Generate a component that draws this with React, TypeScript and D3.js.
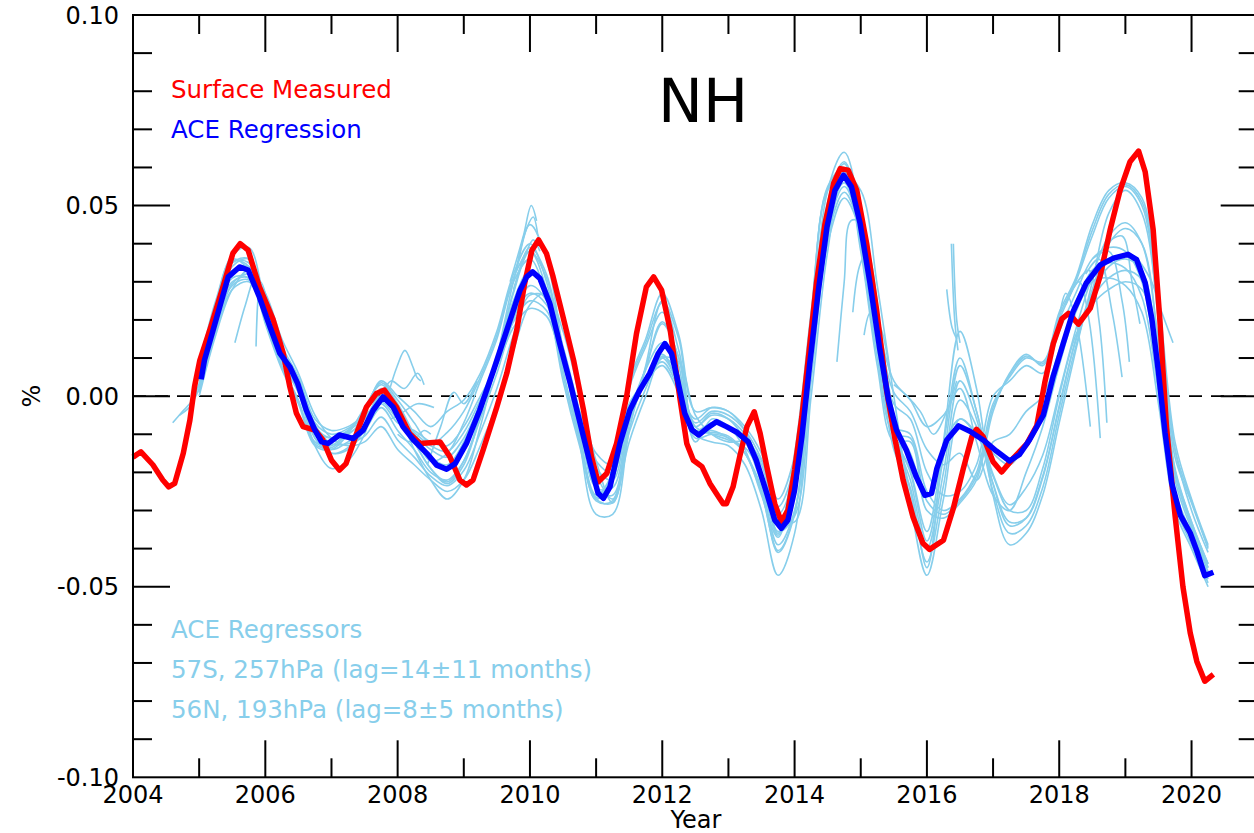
import React from "react";
import * as d3 from "d3";

// ---------- DATA ----------
const surfaceMeasured: [number, number][] = [
  [2004.0,-0.016],[2004.12,-0.0146],[2004.3,-0.018],[2004.45,-0.022],[2004.54,-0.0238],[2004.63,-0.0229],[2004.76,-0.015],[2004.86,-0.0063],[2004.93,0.0025],[2005.01,0.0094],[2005.16,0.0173],[2005.36,0.0287],[2005.51,0.0375],[2005.62,0.040],[2005.74,0.0383],[2005.91,0.0287],[2006.12,0.020],[2006.27,0.0113],[2006.37,0.0025],[2006.47,-0.0045],[2006.57,-0.008],[2006.75,-0.0089],[2006.87,-0.0115],[2007.0,-0.0168],[2007.12,-0.0194],[2007.22,-0.0177],[2007.38,-0.0098],[2007.53,-0.0028],[2007.68,0.0007],[2007.8,0.0016],[2007.98,-0.0028],[2008.18,-0.0098],[2008.34,-0.0124],[2008.64,-0.012],[2008.79,-0.0159],[2008.94,-0.022],[2009.04,-0.0233],[2009.14,-0.022],[2009.29,-0.0142],[2009.5,-0.0028],[2009.65,0.006],[2009.8,0.0173],[2009.92,0.0296],[2010.03,0.0383],[2010.13,0.041],[2010.25,0.0374],[2010.35,0.0313],[2010.5,0.0208],[2010.66,0.0094],[2010.81,-0.0037],[2010.93,-0.0159],[2011.03,-0.0225],[2011.16,-0.0203],[2011.31,-0.0124],[2011.46,-0.0002],[2011.61,0.0164],[2011.76,0.0287],[2011.87,0.0313],[2011.99,0.0278],[2012.12,0.0173],[2012.27,-0.001],[2012.37,-0.0124],[2012.47,-0.0168],[2012.6,-0.0185],[2012.72,-0.0229],[2012.85,-0.0264],[2012.92,-0.0282],[2012.97,-0.0282],[2013.07,-0.0238],[2013.17,-0.0159],[2013.28,-0.008],[2013.39,-0.0041],[2013.48,-0.0098],[2013.58,-0.0185],[2013.7,-0.0282],[2013.8,-0.033],[2013.9,-0.0299],[2014.0,-0.0194],[2014.11,-0.0054],[2014.21,0.0103],[2014.33,0.0296],[2014.46,0.0453],[2014.59,0.0558],[2014.69,0.0597],[2014.81,0.0593],[2014.94,0.054],[2015.09,0.040],[2015.24,0.0226],[2015.39,0.0016],[2015.52,-0.0115],[2015.64,-0.022],[2015.79,-0.0317],[2015.94,-0.0386],[2016.04,-0.0402],[2016.25,-0.0378],[2016.4,-0.0294],[2016.55,-0.019],[2016.68,-0.0106],[2016.75,-0.0087],[2016.85,-0.0106],[2017.0,-0.0172],[2017.13,-0.0199],[2017.31,-0.0162],[2017.51,-0.0125],[2017.66,-0.0078],[2017.78,0.0034],[2017.91,0.0138],[2018.04,0.0203],[2018.14,0.0217],[2018.29,0.0189],[2018.47,0.0231],[2018.62,0.0316],[2018.77,0.0437],[2018.92,0.054],[2019.07,0.0615],[2019.2,0.0643],[2019.3,0.0588],[2019.42,0.0437],[2019.52,0.0203],[2019.62,-0.0078],[2019.75,-0.0312],[2019.87,-0.05],[2019.98,-0.0621],[2020.08,-0.0696],[2020.2,-0.0748],[2020.33,-0.073]
];

const aceRegression: [number, number][] = [
  [2005.03,0.0044],[2005.08,0.0094],[2005.21,0.0173],[2005.31,0.0234],[2005.44,0.0313],[2005.61,0.0339],[2005.74,0.0331],[2005.91,0.026],[2006.07,0.0182],[2006.22,0.0112],[2006.37,0.0077],[2006.49,0.0033],[2006.62,-0.0037],[2006.75,-0.0089],[2006.85,-0.012],[2006.95,-0.0124],[2007.12,-0.0102],[2007.33,-0.0111],[2007.48,-0.0089],[2007.63,-0.0037],[2007.78,-0.0002],[2007.93,-0.0028],[2008.08,-0.008],[2008.24,-0.0115],[2008.44,-0.015],[2008.59,-0.0181],[2008.74,-0.0192],[2008.87,-0.0177],[2009.04,-0.0124],[2009.24,-0.0037],[2009.45,0.0068],[2009.65,0.0173],[2009.85,0.0278],[2009.95,0.0313],[2010.04,0.0326],[2010.15,0.0309],[2010.3,0.0243],[2010.45,0.0138],[2010.61,0.0033],[2010.76,-0.0072],[2010.91,-0.0177],[2011.03,-0.0255],[2011.11,-0.0268],[2011.21,-0.0238],[2011.36,-0.0124],[2011.51,-0.0037],[2011.66,0.0016],[2011.81,0.006],[2011.94,0.0112],[2012.04,0.0138],[2012.14,0.0112],[2012.22,0.0051],[2012.34,-0.0045],[2012.45,-0.0089],[2012.55,-0.0102],[2012.67,-0.0085],[2012.82,-0.0067],[2012.97,-0.008],[2013.12,-0.0094],[2013.3,-0.012],[2013.42,-0.0168],[2013.58,-0.0255],[2013.7,-0.0325],[2013.8,-0.0347],[2013.9,-0.0325],[2014.0,-0.0247],[2014.11,-0.0107],[2014.23,0.0086],[2014.36,0.0278],[2014.49,0.0444],[2014.61,0.054],[2014.74,0.058],[2014.86,0.0549],[2014.99,0.0453],[2015.14,0.0296],[2015.29,0.0121],[2015.42,-0.001],[2015.54,-0.0089],[2015.69,-0.0142],[2015.84,-0.0212],[2015.97,-0.026],[2016.07,-0.0255],[2016.15,-0.019],[2016.3,-0.0115],[2016.48,-0.0078],[2016.65,-0.0092],[2016.85,-0.0115],[2017.05,-0.0144],[2017.25,-0.017],[2017.4,-0.0153],[2017.55,-0.0115],[2017.76,-0.005],[2017.91,0.0053],[2018.06,0.0138],[2018.21,0.0222],[2018.41,0.0297],[2018.62,0.0344],[2018.82,0.0362],[2019.04,0.0372],[2019.17,0.0358],[2019.3,0.0297],[2019.4,0.0203],[2019.5,0.0063],[2019.6,-0.0097],[2019.7,-0.0228],[2019.83,-0.0312],[2019.98,-0.0359],[2020.08,-0.0406],[2020.2,-0.0471],[2020.33,-0.0462]
];

// ACE regressor ensemble members on a quarterly grid
const ensYears = [2005.0,2005.25,2005.5,2005.75,2006.0,2006.25,2006.5,2006.75,2007.0,2007.25,2007.5,2007.75,2008.0,2008.25,2008.5,2008.75,2009.0,2009.25,2009.5,2009.75,2010.0,2010.25,2010.5,2010.75,2011.0,2011.25,2011.5,2011.75,2012.0,2012.25,2012.5,2012.75,2013.0,2013.25,2013.5,2013.75,2014.0,2014.25,2014.5,2014.75,2015.0,2015.25,2015.5,2015.75,2016.0,2016.25,2016.5,2016.75,2017.0,2017.25,2017.5,2017.75,2018.0,2018.25,2018.5,2018.75,2019.0,2019.25,2019.5,2019.75,2020.0,2020.25];

const ens1 = [0.006,0.024,0.037,0.039,0.024,0.010,0.001,-0.013,-0.019,-0.017,-0.010,0.002,-0.004,-0.014,-0.022,-0.027,-0.022,-0.008,0.010,0.030,0.045,0.036,0.012,-0.012,-0.031,-0.031,-0.009,0.008,0.025,0.015,-0.010,-0.012,-0.013,-0.018,-0.030,-0.047,-0.036,0.012,0.054,0.064,0.047,0.014,-0.014,-0.024,-0.045,-0.012,0.017,0.002,-0.026,-0.039,-0.036,-0.026,-0.007,0.012,0.030,0.048,0.054,0.048,0.022,-0.014,-0.030,-0.041];
const ens2 = [0.004,0.022,0.034,0.036,0.023,0.010,0.002,-0.011,-0.015,-0.014,-0.009,0.000,-0.005,-0.012,-0.019,-0.023,-0.018,-0.005,0.010,0.027,0.038,0.031,0.011,-0.010,-0.027,-0.028,-0.007,0.007,0.019,0.010,-0.009,-0.009,-0.011,-0.015,-0.025,-0.041,-0.031,0.011,0.050,0.061,0.046,0.015,-0.010,-0.020,-0.038,-0.016,0.008,-0.004,-0.023,-0.034,-0.032,-0.021,-0.003,0.015,0.028,0.040,0.044,0.040,0.014,-0.020,-0.034,-0.045];
const ens3 = [0.001,0.017,0.028,0.030,0.023,0.013,0.005,-0.006,-0.009,-0.008,-0.005,-0.002,-0.007,-0.009,-0.012,-0.013,-0.008,0.000,0.008,0.018,0.023,0.021,0.008,-0.004,-0.015,-0.018,-0.002,0.004,0.008,0.001,-0.006,-0.003,-0.004,-0.008,-0.015,-0.027,-0.016,0.012,0.040,0.052,0.043,0.020,0.004,-0.001,-0.008,-0.005,0.002,-0.012,-0.026,-0.030,-0.020,-0.008,0.008,0.022,0.030,0.031,0.029,0.022,-0.002,-0.030,-0.040,-0.050];
const ens4 = [0.002,0.019,0.030,0.031,0.022,0.012,0.004,-0.008,-0.011,-0.009,-0.006,-0.001,-0.005,-0.010,-0.014,-0.016,-0.011,-0.002,0.009,0.021,0.027,0.024,0.010,-0.006,-0.019,-0.022,-0.004,0.005,0.010,0.003,-0.008,-0.005,-0.006,-0.010,-0.018,-0.031,-0.021,0.011,0.044,0.055,0.044,0.018,-0.002,-0.006,-0.020,-0.026,-0.025,-0.018,0.000,0.004,0.008,0.006,0.017,0.027,0.036,0.039,0.038,0.030,0.004,-0.027,-0.038,-0.048];
const ens5 = [0.008,0.025,0.036,0.033,0.019,0.007,-0.002,-0.013,-0.014,-0.010,-0.003,0.003,-0.002,-0.010,-0.017,-0.015,-0.007,0.004,0.015,0.030,0.036,0.026,0.004,-0.013,-0.027,-0.022,0.002,0.013,0.022,0.008,-0.012,-0.006,-0.008,-0.014,-0.026,-0.037,-0.018,0.020,0.054,0.058,0.038,0.008,-0.012,-0.012,-0.030,-0.032,-0.028,-0.022,-0.004,0.006,0.011,0.008,0.020,0.030,0.042,0.052,0.055,0.050,0.020,-0.016,-0.028,-0.040];
const ens6 = [0.000,0.016,0.028,0.033,0.027,0.015,0.006,-0.005,-0.011,-0.013,-0.012,-0.008,-0.014,-0.018,-0.022,-0.025,-0.022,-0.013,-0.002,0.012,0.024,0.027,0.017,0.000,-0.017,-0.028,-0.012,0.000,0.010,0.009,-0.005,-0.010,-0.012,-0.012,-0.017,-0.032,-0.033,0.000,0.038,0.058,0.054,0.029,0.000,-0.028,-0.047,-0.027,-0.006,-0.010,-0.021,-0.030,-0.030,-0.019,0.000,0.016,0.024,0.028,0.030,0.028,0.012,-0.019,-0.033,-0.044];
const ens7 = [0.005,0.021,0.033,0.034,0.023,0.011,0.003,-0.009,-0.011,-0.010,-0.006,0.000,-0.005,-0.010,-0.016,-0.018,-0.012,-0.002,0.010,0.025,0.033,0.028,0.011,-0.007,-0.024,-0.024,-0.005,0.007,0.014,0.005,-0.009,-0.007,-0.008,-0.012,-0.021,-0.034,-0.025,0.012,0.048,0.059,0.046,0.018,-0.006,-0.015,-0.026,-0.013,-0.006,-0.010,-0.015,-0.018,-0.012,-0.005,0.009,0.023,0.033,0.036,0.037,0.032,0.006,-0.025,-0.036,-0.047];
const ens8 = [0.002,0.019,0.031,0.031,0.021,0.009,0.001,-0.010,-0.014,-0.012,-0.009,-0.003,-0.009,-0.014,-0.020,-0.022,-0.017,-0.006,0.006,0.020,0.029,0.025,0.009,-0.008,-0.024,-0.026,-0.007,0.004,0.011,0.002,-0.011,-0.010,-0.011,-0.015,-0.024,-0.039,-0.030,0.008,0.045,0.056,0.043,0.014,-0.010,-0.022,-0.040,-0.020,0.004,-0.006,-0.025,-0.036,-0.034,-0.024,-0.005,0.013,0.027,0.034,0.036,0.033,0.010,-0.022,-0.035,-0.046];
const ens9 = [0.007,0.023,0.035,0.035,0.020,0.008,-0.001,-0.012,-0.013,-0.009,-0.004,0.004,0.000,-0.004,-0.008,-0.004,-0.001,0.006,0.017,0.032,0.040,0.030,0.007,-0.011,-0.026,-0.020,0.004,0.015,0.027,0.016,-0.004,-0.003,-0.004,-0.009,-0.020,-0.036,-0.015,0.022,0.055,0.060,0.040,0.012,-0.008,-0.010,-0.025,-0.030,-0.027,-0.020,-0.002,0.005,0.010,0.009,0.022,0.031,0.045,0.054,0.056,0.052,0.026,-0.012,-0.027,-0.039];
const ens10 = [0.0055,0.0225,0.035,0.036,0.0235,0.0105,0.002,-0.011,-0.015,-0.0135,-0.008,0.001,-0.0045,-0.012,-0.019,-0.0225,-0.017,-0.005,0.010,0.0275,0.039,0.032,0.0115,-0.0095,-0.0275,-0.0275,-0.007,0.0075,0.0195,0.010,-0.0095,-0.0095,-0.0105,-0.015,-0.0255,-0.0405,-0.0305,0.012,0.051,0.0615,0.0465,0.016,-0.010,-0.0195,-0.0355,-0.0125,0.010,-0.004,-0.0205,-0.0285,-0.024,-0.0155,0.001,0.0175,0.0315,0.042,0.0455,0.040,0.014,-0.0195,-0.033,-0.044];
const ens11 = [0.0015,0.018,0.029,0.0305,0.0225,0.0125,0.0045,-0.007,-0.010,-0.0085,-0.0055,-0.0015,-0.006,-0.0095,-0.013,-0.0145,-0.0095,-0.001,0.0085,0.0195,0.025,0.0225,0.009,-0.005,-0.017,-0.020,-0.003,0.0045,0.009,0.002,-0.007,-0.004,-0.005,-0.009,-0.0165,-0.029,-0.0185,0.0115,0.042,0.0535,0.0435,0.019,0.001,-0.004,-0.014,-0.018,-0.015,-0.022,-0.012,-0.010,-0.004,0.000,0.012,0.024,0.033,0.035,0.0335,0.026,0.001,-0.0285,-0.039,-0.049];
const ens12 = [0.001,0.0175,0.0295,0.032,0.024,0.012,0.0035,-0.0075,-0.0125,-0.0125,-0.0105,-0.0055,-0.0115,-0.016,-0.021,-0.0235,-0.0195,-0.0095,0.002,0.016,0.0265,0.026,0.013,-0.004,-0.0205,-0.027,-0.0095,0.002,0.0105,0.0055,-0.008,-0.010,-0.0115,-0.0135,-0.0205,-0.0355,-0.0315,0.004,0.0415,0.057,0.0485,0.0215,-0.005,-0.025,-0.0435,-0.0235,-0.001,-0.008,-0.023,-0.033,-0.032,-0.0215,-0.0025,0.0145,0.0255,0.031,0.033,0.0305,0.011,-0.0205,-0.034,-0.045];
const ens13 = [0.0075,0.024,0.0355,0.034,0.0195,0.0075,-0.0015,-0.0125,-0.0135,-0.0095,-0.0035,0.0035,-0.001,-0.007,-0.0125,-0.0095,-0.004,0.005,0.016,0.031,0.038,0.028,0.0055,-0.012,-0.0265,-0.021,0.003,0.014,0.0245,0.012,-0.008,-0.0045,-0.006,-0.0115,-0.023,-0.0365,-0.0165,0.021,0.0545,0.059,0.039,0.010,-0.010,-0.011,-0.0275,-0.031,-0.0275,-0.021,-0.003,0.0055,0.0105,0.0085,0.021,0.0305,0.0435,0.053,0.0555,0.051,0.023,-0.014,-0.0275,-0.0395];

// short regressor fragments (start/end pieces of individual fits)
const frag1: [number, number][] = [[2004.6,-0.007],[2004.75,-0.004],[2004.9,-0.001],[2005.05,0.006],[2005.25,0.018]];
const frag2: [number, number][] = [[2004.7,-0.005],[2004.85,-0.003],[2005.0,0.002],[2005.2,0.014]];
const frag3: [number, number][] = [[2005.54,0.014],[2005.7,0.024],[2005.85,0.031],[2006.0,0.025],[2006.2,0.014]];
const frag4: [number, number][] = [[2005.86,0.013],[2005.93,0.030],[2006.05,0.024],[2006.25,0.012]];
const frag5: [number, number][] = [[2007.85,0.000],[2007.99,0.0077],[2008.11,0.012],[2008.23,0.0077],[2008.29,0.005],[2008.35,0.004]];
const frag6: [number, number][] = [[2007.7,-0.002],[2007.9,0.004],[2008.1,0.002],[2008.3,0.006],[2008.4,0.003]];
const frag7: [number, number][] = [[2007.9,-0.006],[2008.1,-0.004],[2008.3,-0.002],[2008.55,-0.003]];
const frag8: [number, number][] = [[2008.0,-0.010],[2008.2,-0.012],[2008.4,-0.009],[2008.5,-0.010]];
const frag9: [number, number][] = [[2008.45,-0.018],[2008.65,-0.008],[2008.85,0.001],[2009.0,-0.002],[2009.2,0.004]];
const frag10: [number, number][] = [[2009.7,0.030],[2009.9,0.042],[2010.02,0.050],[2010.1,0.046]];
const frag11: [number, number][] = [[2009.8,0.033],[2009.95,0.044],[2010.05,0.047],[2010.12,0.042]];
const frag12: [number, number][] = [[2009.75,0.028],[2009.95,0.038],[2010.05,0.041],[2010.15,0.038]];
const frag13: [number, number][] = [[2014.64,0.009],[2014.75,0.030],[2014.85,0.046],[2015.0,0.046]];
const frag14: [number, number][] = [[2014.88,0.022],[2014.98,0.034],[2015.1,0.038],[2015.25,0.024]];
const frag15: [number, number][] = [[2015.05,0.016],[2015.15,0.022],[2015.3,0.018],[2015.45,0.005]];
const frag16: [number, number][] = [[2015.5,0.003],[2015.7,0.000],[2015.9,-0.004],[2016.1,-0.010],[2016.3,-0.004],[2016.45,0.004]];
const frag17: [number, number][] = [[2016.37,0.040],[2016.42,0.020],[2016.47,0.012]];
const frag18: [number, number][] = [[2016.40,0.040],[2016.45,0.020],[2016.5,0.014]];
const frag19: [number, number][] = [[2016.3,0.028],[2016.38,0.018],[2016.45,0.015]];
const frag20: [number, number][] = [[2017.95,0.015],[2018.1,0.027],[2018.25,0.020],[2018.47,-0.008]];
const frag21: [number, number][] = [[2018.1,0.024],[2018.3,0.030],[2018.45,0.020],[2018.62,-0.011]];
const frag22: [number, number][] = [[2018.2,0.028],[2018.45,0.033],[2018.6,0.020],[2018.72,-0.007]];
const frag23: [number, number][] = [[2018.4,0.032],[2018.6,0.036],[2018.8,0.022],[2018.95,0.005]];
const frag24: [number, number][] = [[2018.5,0.036],[2018.75,0.038],[2018.95,0.025],[2019.06,0.009]];
const frag25: [number, number][] = [[2018.7,0.040],[2018.95,0.042],[2019.1,0.030],[2019.22,0.019]];
const frag26: [number, number][] = [[2018.9,0.036],[2019.1,0.037],[2019.37,0.031],[2019.55,0.022],[2019.72,0.014]];

const yMajorTicks = [-0.1, -0.05, 0, 0.05, 0.1];
const yTickLabels = ["-0.10", "-0.05", "0.00", "0.05", "0.10"];
const xLabelYears = [2004, 2006, 2008, 2010, 2012, 2014, 2016, 2018, 2020];

const legendTop = ["Surface Measured", "ACE Regression"];
const legendBottom = ["ACE Regressors", "57S, 257hPa (lag=14\u00b111 months)", "56N, 193hPa (lag=8\u00b15 months)"];

// ---------- CHART ----------
const W = 1254, H = 833;
const X0 = 133, X1 = 1257.7, Y0 = 15, Y1 = 777.3;
const RED = "#ff0000", BLUE = "#0000ff", SKY = "#87ceeb";
const FONT = "DejaVu Sans, Verdana, sans-serif";

export default function App() {
  const x = d3.scaleLinear().domain([2004, 2021]).range([X0, X1]);
  const y = d3.scaleLinear().domain([-0.1, 0.1]).range([Y1, Y0]);

  const lin = d3.line<[number, number]>().x(d => x(d[0])).y(d => y(d[1]));
  const smooth = d3.line<[number, number]>().x(d => x(d[0])).y(d => y(d[1])).curve(d3.curveCatmullRom.alpha(0.5));

  const members = [ens1, ens2, ens3, ens4, ens5, ens6, ens7, ens8, ens9, ens10, ens11, ens12, ens13].map(vals =>
    vals.map((v, i) => [ensYears[i], v] as [number, number])
  );
  const frags = [frag1, frag2, frag3, frag4, frag5, frag6, frag7, frag8, frag9, frag10, frag11, frag12, frag13,
    frag14, frag15, frag16, frag17, frag18, frag19, frag20, frag21, frag22, frag23, frag24, frag25, frag26];

  const yearTicks = d3.range(2005, 2021);
  const yMinor = d3.range(-9, 10).map(k => k / 100);

  return (
    <svg width={W} height={H} style={{ position: "absolute", left: 0, top: 0, background: "#fff" }}
      fontFamily={FONT}>
      <rect x={0} y={0} width={W} height={H} fill="#fff" />
      {/* zero line */}
      <line x1={X0} x2={X1} y1={y(0)} y2={y(0)} stroke="#000" strokeWidth={1.6} strokeDasharray="13,9" />

      {/* ensemble */}
      <g fill="none" stroke={SKY} strokeWidth={1.6} strokeLinejoin="round">
        {members.map((m, i) => <path key={"m" + i} d={smooth(m) || ""} />)}
        {frags.map((f, i) => <path key={"f" + i} d={smooth(f) || ""} />)}
      </g>

      {/* red and blue */}
      <path d={lin(surfaceMeasured) || ""} fill="none" stroke={RED} strokeWidth={5.5} strokeLinejoin="round" />
      <path d={lin(aceRegression) || ""} fill="none" stroke={BLUE} strokeWidth={5.5} strokeLinejoin="round" />

      {/* frame */}
      <rect x={X0} y={Y0} width={X1 - X0} height={Y1 - Y0} fill="none" stroke="#000" strokeWidth={2} />

      {/* x ticks */}
      {yearTicks.map(t => {
        const len = t % 2 === 0 ? 37 : 19;
        return (
          <g key={"xt" + t} stroke="#000" strokeWidth={2}>
            <line x1={x(t)} x2={x(t)} y1={Y1} y2={Y1 - len} />
            <line x1={x(t)} x2={x(t)} y1={Y0} y2={Y0 + len} />
          </g>
        );
      })}
      {/* y ticks */}
      {yMinor.map(v => {
        const major = Math.abs(Math.round(v * 100)) % 5 === 0;
        const len = major ? 37 : 19;
        return (
          <g key={"yt" + v} stroke="#000" strokeWidth={2}>
            <line x1={X0} x2={X0 + len} y1={y(v)} y2={y(v)} />
            <line x1={X1} x2={X1 - len} y1={y(v)} y2={y(v)} />
          </g>
        );
      })}

      {/* tick labels */}
      {yMajorTicks.map((v, i) => (
        <text key={"yl" + i} x={119} y={y(v)} dy="0.36em" textAnchor="end" fontSize={24} fill="#000">{yTickLabels[i]}</text>
      ))}
      {xLabelYears.map(t => (
        <text key={"xl" + t} x={x(t)} y={803} textAnchor="middle" fontSize={24} fill="#000">{t}</text>
      ))}

      {/* axis titles */}
      <text x={696} y={828} textAnchor="middle" fontSize={24} fill="#000">Year</text>
      <text transform={`translate(40,${y(0)}) rotate(-90)`} textAnchor="middle" fontSize={24} fill="#000">%</text>

      {/* title */}
      <text x={703} y={122} textAnchor="middle" fontSize={60} fill="#000">NH</text>

      {/* legends */}
      <text x={171} y={98} fontSize={24.5} fill={RED}>{legendTop[0]}</text>
      <text x={171} y={138} fontSize={24.5} fill={BLUE}>{legendTop[1]}</text>
      {legendBottom.map((s, i) => (
        <text key={"lb" + i} x={171} y={638 + i * 40} fontSize={24.5} fill={SKY}>{s}</text>
      ))}
    </svg>
  );
}
